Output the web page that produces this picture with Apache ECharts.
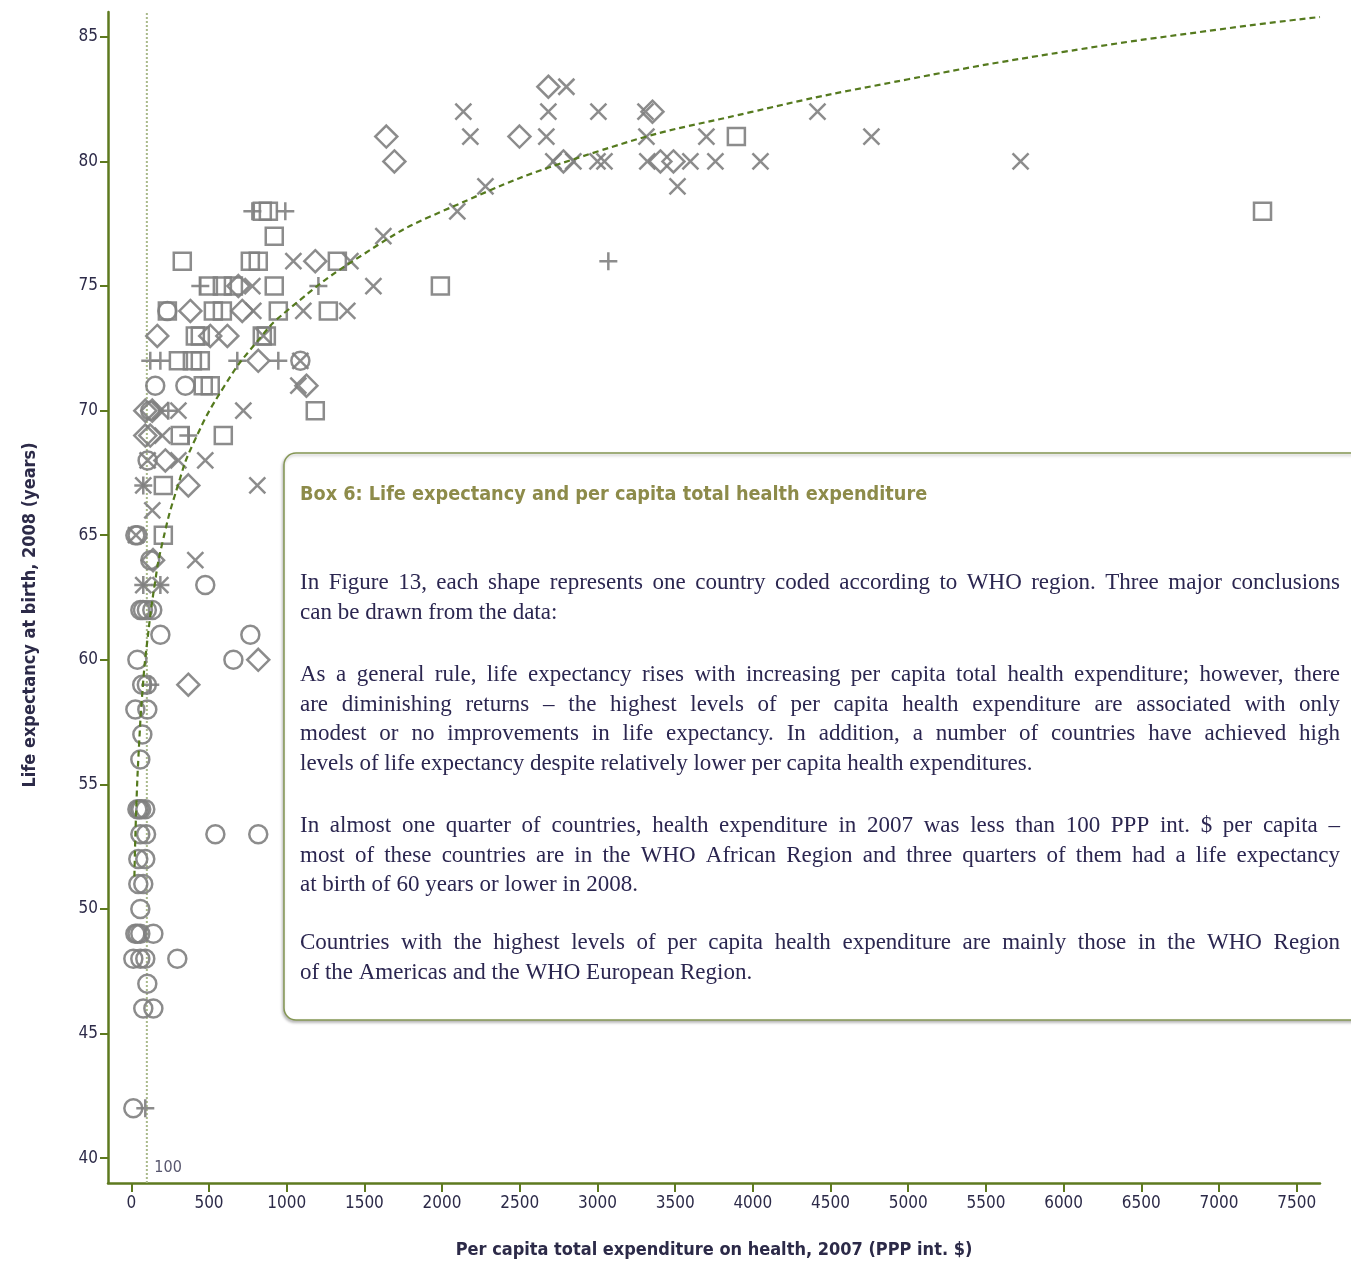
<!DOCTYPE html>
<html>
<head>
<meta charset="utf-8">
<script src="https://cdn.jsdelivr.net/npm/echarts@6/dist/echarts.min.js"></script>
<style>
html,body{margin:0;padding:0;background:#fff;}
#chart{width:1351px;height:1263px;}
</style>
</head>
<body>
<div id="chart"></div>
<script>
// ---- data (x = per capita health expenditure 2007, y = life expectancy 2008) ----
const circlePts = [
  [232,74],[154,71],[348,71],[1088,72],[122,70],[105,68],[26,65],[40,65],[122,64],[476,63],
  [58,62],[75,62],[100,62],[135,62],[187,61],[766,61],[39,60],[657,60],[70,59],[100,59],
  [26,58],[103,58],[71,57],[58,56],[39,54],[52,54],[64,54],[90,54],[58,53],[95,53],[541,53],[817,53],
  [45,52],[90,52],[45,51],[77,51],[58,50],[26,49],[40,49],[58,49],[142,49],
  [13,48],[58,48],[90,48],[296,48],[103,47],[77,46],[142,46],[13,42]
];
const squarePts = [
  [7280,78],[3894,81],[843,78],[882,78],[920,77],[328,76],[766,76],[817,76],[1326,76],
  [496,75],[586,75],[657,75],[920,75],[1989,75],[528,74],[586,74],[946,74],[1268,74],
  [412,73],[444,73],[843,73],[869,73],[303,72],[393,72],[444,72],[463,71],[508,71],
  [1184,70],[315,69],[592,69],[206,67],[206,65],[232,74]
];
const diamondPts = [
  [2684,83],[3354,82],[1641,81],[2498,81],[1693,80],[2781,80],[3405,80],[3489,80],
  [1184,76],[689,75],[380,74],[714,74],[167,73],[508,73],[618,73],[817,72],[1127,71],
  [90,70],[135,70],[90,69],[122,69],[219,68],[367,67],[140,64],[817,60],[367,59]
];
const crossPts = [
  [2800,83],[2137,82],[2684,82],[3006,82],[3309,82],[4416,82],
  [2182,81],[2671,81],[3315,81],[3701,81],[4763,81],
  [2716,80],[2845,80],[3000,80],[3045,80],[3321,80],[3598,80],[3759,80],[4049,80],[5723,80],
  [2279,79],[3515,79],[2098,78],[1622,77],[1043,76],[1410,76],[779,75],[1558,75],
  [785,74],[1107,74],[1390,74],[850,73],[1088,72],[1075,71],[187,70],[303,70],[721,70],
  [200,69],[303,68],[476,68],[77,67],[811,67],[135,66],[30,65],[412,64],[77,63],[187,63],[105,68]
];
const plusPts = [
  [3070,76],[779,78],[991,78],[444,75],[1204,75],[122,72],[187,72],[682,72],[946,72],
  [238,70],[367,69],[77,67],[77,63],[187,63],[122,59],[90,42]
];
// trend curve
const trendX = [20,30,50,75,100,150,200,300,400,600,800,1000,1500,2000,3000,4000,5000,6000,7000,7650];
const trendY = [51.3,53.7,56.6,59.0,60.6,63.0,64.7,67.0,68.7,71.0,72.7,74.0,76.3,78.0,80.4,82.0,83.3,84.4,85.3,85.8];
const xTicks = [0,500,1000,1500,2000,2500,3000,3500,4000,4500,5000,5500,6000,6500,7000,7500];
const yTicks = [40,45,50,55,60,65,70,75,80,85];
const refLine = 100;

const xTitle = 'Per capita total expenditure on health, 2007 (PPP int. $)';
const yTitle = 'Life expectancy at birth, 2008 (years)';
const boxTitle = 'Box 6: Life expectancy and per capita total health expenditure';
// paragraphs, already broken into lines as in the original (last line of each paragraph not justified)
const boxParagraphs = [
  ['In Figure 13, each shape represents one country coded according to WHO region. Three major conclusions',
   'can be drawn from the data:'],
  ['As a general rule, life expectancy rises with increasing per capita total health expenditure; however, there',
   'are diminishing returns \u2013 the highest levels of per capita health expenditure are associated with only',
   'modest or no improvements in life expectancy. In addition, a number of countries have achieved high',
   'levels of life expectancy despite relatively lower per capita health expenditures.'],
  ['In almost one quarter of countries, health expenditure in 2007 was less than 100 PPP int. $ per capita \u2013',
   'most of these countries are in the WHO African Region and three quarters of them had a life expectancy',
   'at birth of 60 years or lower in 2008.'],
  ['Countries with the highest levels of per capita health expenditure are mainly those in the WHO Region',
   'of the Americas and the WHO European Region.']
];
const paraTops = [583, 675, 826, 943];

// ---- styling ----
const OLIVE = '#5e7a1f';
const GREY = '#808080';
const COND = "'DejaVu Sans Condensed', 'Liberation Sans Narrow', 'DejaVu Sans', sans-serif";
const SERIF = "'Liberation Serif', 'DejaVu Serif', serif";
const LABEL = '#2c2a48';
const BODY_FONT = '23px ' + SERIF;
const LINE_H = 29.5;
const TEXT_L = 300, TEXT_R = 1340;

function markerSeries(name, data, symbol, size) {
  return {
    name, type: 'scatter', data, symbol, symbolSize: size,
    itemStyle: { color: 'rgba(0,0,0,0)', borderColor: GREY, borderWidth: 2.5, opacity: 0.9 },
    z: 3, silent: true
  };
}

const graphics = [{
  type: 'text', x: 30, y: 615, rotation: Math.PI / 2,
  style: { text: yTitle, fill: LABEL, font: 'bold 18px ' + COND, textAlign: 'center', textVerticalAlign: 'middle' }
}, {
  type: 'rect', z: 100,
  shape: { x: 284, y: 453, width: 1100, height: 567, r: 12 },
  style: { fill: '#ffffff', stroke: '#849653', lineWidth: 1.5,
           shadowBlur: 3, shadowOffsetX: -1, shadowOffsetY: 2, shadowColor: 'rgba(0,0,0,0.25)' }
}, {
  type: 'text', z: 101, x: TEXT_L, y: 495,
  style: { text: boxTitle, fill: '#8d8b4a', font: 'bold 19.7px ' + COND, textVerticalAlign: 'middle' }
}];

// justified layout of the body text
const mctx = document.createElement('canvas').getContext('2d');
mctx.font = BODY_FONT;
boxParagraphs.forEach((para, pi) => {
  para.forEach((line, li) => {
    const y = paraTops[pi] + li * LINE_H;
    const last = li === para.length - 1;
    if (last) {
      graphics.push({ type: 'text', z: 101, x: TEXT_L, y,
        style: { text: line, fill: '#2b2650', font: BODY_FONT, textVerticalAlign: 'middle' } });
      return;
    }
    const words = line.split(' ');
    const widths = words.map(w => mctx.measureText(w).width);
    const total = widths.reduce((a, b) => a + b, 0);
    const gap = (TEXT_R - TEXT_L - total) / (words.length - 1);
    let x = TEXT_L;
    words.forEach((w, wi) => {
      graphics.push({ type: 'text', z: 101, x, y,
        style: { text: w, fill: '#2b2650', font: BODY_FONT, textVerticalAlign: 'middle' } });
      x += widths[wi] + gap;
    });
  });
});

const option = {
  animation: false,
  backgroundColor: '#ffffff',
  grid: { left: 108, right: 31, top: 12, bottom: 80, containLabel: false, outerBoundsMode: 'none' },
  xAxis: {
    type: 'value', min: -150, max: 7650,
    name: xTitle,
    nameLocation: 'middle', nameGap: 58,
    nameTextStyle: { fontFamily: COND, fontWeight: 'bold', fontSize: 18, color: LABEL },
    axisLine: { onZero: false, lineStyle: { color: OLIVE, width: 2.5 } },
    axisTick: { show: true, customValues: xTicks, length: 9, lineStyle: { color: OLIVE, width: 2 } },
    axisLabel: { customValues: xTicks, formatter: v => String(v), fontFamily: COND, fontSize: 17, color: LABEL, margin: 12 },
    splitLine: { show: false }
  },
  yAxis: {
    type: 'value', min: 39, max: 86,
    axisLine: { show: true, onZero: false, lineStyle: { color: OLIVE, width: 2.5 } },
    axisTick: { show: true, customValues: yTicks, length: 8, lineStyle: { color: OLIVE, width: 2 } },
    axisLabel: { customValues: yTicks, formatter: v => String(v), fontFamily: COND, fontSize: 17, color: LABEL, margin: 10 },
    splitLine: { show: false }
  },
  graphic: graphics,
  series: [
    {
      type: 'line', name: 'ref', data: [[refLine, 39], [refLine, 86]],
      symbol: 'none', silent: true, z: 1,
      lineStyle: { color: '#a9b98a', width: 2, type: [2, 2] }
    },
    {
      type: 'scatter', name: 'reflabel', data: [[refLine, 39.6]], symbol: 'circle', symbolSize: 1,
      itemStyle: { color: 'rgba(0,0,0,0)' }, silent: true,
      label: { show: true, position: 'right', distance: 7, formatter: String(refLine),
               fontFamily: COND, fontSize: 16, color: LABEL }
    },
    markerSeries('Africa', circlePts, 'circle', 18),
    markerSeries('Americas', squarePts, 'rect', 17),
    markerSeries('EastMed', diamondPts, 'diamond', 22),
    markerSeries('Europe', crossPts, 'path://M0,0L20,20M20,0L0,20', 16),
    markerSeries('Plus', plusPts, 'path://M10,0L10,20M0,10L20,10', 18),
    {
      type: 'line', name: 'trend', data: trendX.map((x, i) => [x, trendY[i]]),
      smooth: true, symbol: 'none', silent: true, z: 4,
      lineStyle: { color: '#557a1e', width: 2.2, type: [6, 4] }
    }
  ]
};
const chart = echarts.init(document.getElementById('chart'), null, { renderer: 'canvas' });
chart.setOption(option);
</script>
</body>
</html>
